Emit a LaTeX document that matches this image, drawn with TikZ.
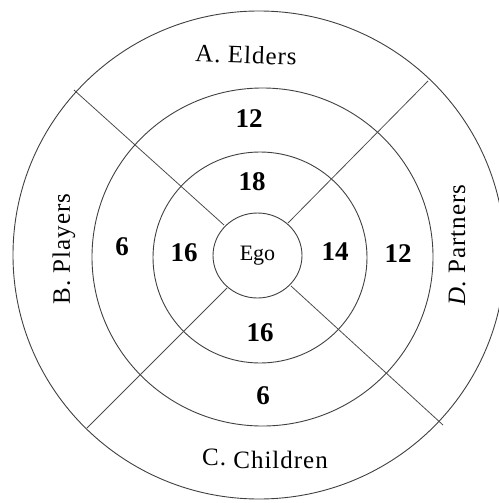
\documentclass[tikz,border=0pt]{standalone}
\usepackage{fontspec}
\setmainfont{Liberation Serif}
\newfontfamily\labfont[LetterSpace=4]{Liberation Serif}
\usetikzlibrary{shapes.geometric}
\tikzset{
  ring/.style={draw=black!75, line width=0.9pt},
  spoke/.style={draw=black!70, line width=0.8pt},
  num/.style={font=\fontsize{27}{27}\selectfont\bfseries, inner sep=0pt},
  lab/.style={font=\labfont\fontsize{25}{25}\selectfont, inner sep=0pt},
}
\begin{document}
\begin{tikzpicture}[x=1pt,y=-1pt]
\useasboundingbox (0,0) rectangle (498,503);
% rings
\draw[ring] (259,255) ellipse [x radius=246, y radius=244];
\draw[ring] (262.5,257) ellipse [x radius=170.5, y radius=169];
\draw[ring] (260,257.5) ellipse [x radius=107, y radius=105.5];
\node[ring, ellipse, minimum width=89pt, minimum height=85pt, inner sep=0pt,
      font=\fontsize{22}{22}\selectfont] (ego) at (257.5,255.5) {Ego};
% spoke end points
\coordinate (tlo) at (74,90);   \coordinate (tli) at (224,225);
\coordinate (tro) at (428,81);  \coordinate (tri) at (288,223);
\coordinate (blo) at (87,428);  \coordinate (bli) at (227,288);
\coordinate (bro) at (443,425); \coordinate (bri) at (291,286);
\draw[spoke] (tlo) -- (tli);
\draw[spoke] (tro) -- (tri);
\draw[spoke] (blo) -- (bli);
\draw[spoke] (bro) -- (bri);
% numbers
\node[num] (a1) at (249,119) {12};
\node[num] (a2) at (252,182) {18};
\node[num] (b1) at (122,247) {6};
\node[num] (b2) at (184,253) {16};
\node[num] (d2) at (335,252) {14};
\node[num] (d1) at (398,254) {12};
\node[num] (c2) at (260,333) {16};
\node[num] (c1) at (263,396) {6};
% labels
\node[lab, rotate=-2] (la) at (246,55) {A. Elders};
\node[lab] (lc) at (265,459) {\raisebox{3pt}{C.} Children};
\node[lab, rotate=90] (lb) at (64,249) {B. Players};
\node[lab, rotate=90] (ld) at (457,245) {\textit{D}. Partners};
\end{tikzpicture}
\end{document}
